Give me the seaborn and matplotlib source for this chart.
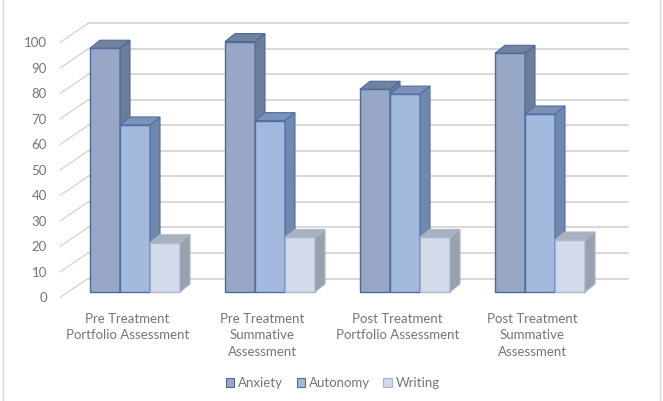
import matplotlib
matplotlib.use("Agg")
import matplotlib.pyplot as plt
import seaborn as sns
import pandas as pd
from matplotlib.patches import Polygon, Patch
from matplotlib.lines import Line2D

# data
categories = ["Pre Treatment\nPortfolio Assessment",
              "Pre Treatment\nSummative\nAssessment",
              "Post Treatment\nPortfolio Assessment",
              "Post Treatment\nSummative\nAssessment"]
series = ["Anxiety", "Autonomy", "Writing"]
anxiety = [95.6, 98.2, 79.5, 93.6]
autonomy = [65.5, 67.2, 77.6, 69.8]
writing = [19.3, 21.4, 21.4, 20.4]
yticks = list(range(0, 101, 10))

front_col = {"Anxiety": "#98A7C5", "Autonomy": "#A3B9DD", "Writing": "#D3DAE9"}
side_col = {"Anxiety": "#6C7C99", "Autonomy": "#7088AE", "Writing": "#9AA1AE"}
top_col = {"Anxiety": "#71819E", "Autonomy": "#7C91B5", "Writing": "#AAB1BE"}
edge_col = {"Anxiety": "#4A6A9C", "Autonomy": "#4C6FA6", "Writing": "#A9B6CE"}
grid_col = "#D6D6D6"
text_col = "#767676"

df = pd.DataFrame({
    "group": categories * 3,
    "series": [s for s in series for _ in categories],
    "value": anxiety + autonomy + writing,
})

sns.set_style("white")
plt.rcParams["font.family"] = ["Lato", "DejaVu Sans"]

W, H = 663, 401
fig = plt.figure(figsize=(W / 100, H / 100), dpi=100)
# axes = front edge of the floor
ax = fig.add_axes([60 / W, (H - 297.5) / H, 540 / W, 255 / H])
sns.barplot(data=df, x="group", y="value", hue="series", palette=front_col,
            width=2 / 3, saturation=1, legend=False, ax=ax)
ax.set_xlim(-0.5, 3.5)
ax.set_ylim(0, 100)

sx = 540 / 4      # px per category
sy = 255 / 100    # px per value unit
wall_dx, wall_dy = 28 / sx, 19 / sy      # back wall depth
bar_dx, bar_dy = 7.5 / sx, 5.5 / sy      # bar front plane
deep_dx, deep_dy = 10 / sx, 8 / sy       # bar depth

# back wall grid and left wall slants
for v in yticks:
    ax.plot([-0.5 + wall_dx, 3.5 + wall_dx], [v + wall_dy, v + wall_dy],
            color=grid_col, lw=1.3, zorder=0.5, clip_on=False)
    ax.plot([-0.5, -0.5 + wall_dx], [v, v + wall_dy],
            color=grid_col, lw=1.0, zorder=0.5, clip_on=False)

for j, (name, cont) in enumerate(zip(series, ax.containers)):
    z = 2 + j
    for p in cont.patches:
        x = p.get_x() + bar_dx
        w = p.get_width()
        h = p.get_height()
        y0 = bar_dy
        p.set_x(x)
        p.set_y(y0)
        p.set_edgecolor(edge_col[name])
        p.set_linewidth(1.0)
        p.set_zorder(z)
        p.set_clip_on(False)
        side = Polygon([(x + w, y0), (x + w + deep_dx, y0 + deep_dy),
                        (x + w + deep_dx, y0 + h + deep_dy), (x + w, y0 + h)],
                       closed=True, facecolor=side_col[name], edgecolor=edge_col[name],
                       lw=0.8, zorder=z, clip_on=False)
        top = Polygon([(x, y0 + h), (x + deep_dx, y0 + h + deep_dy),
                       (x + w + deep_dx, y0 + h + deep_dy), (x + w, y0 + h)],
                      closed=True, facecolor=top_col[name], edgecolor=edge_col[name],
                      lw=0.8, zorder=z, clip_on=False)
        ax.add_patch(side)
        ax.add_patch(top)

for s in ax.spines.values():
    s.set_visible(False)
ax.set_yticks(yticks)
ax.set_xlabel("")
ax.set_ylabel("")
ax.tick_params(axis="y", length=0, pad=9.4, labelsize=9.5, labelcolor=text_col)
ax.tick_params(axis="x", length=0, pad=11, labelsize=9.5, labelcolor=text_col)
for lab in ax.get_xticklabels():
    lab.set_linespacing(1.45)

handles = [Patch(facecolor=front_col[s], edgecolor=edge_col[s], lw=0.8) for s in series]
leg = fig.legend(handles, series, loc="center", bbox_to_anchor=(333 / W, 1 - 383 / H),
                 ncol=3, frameon=False, handlelength=0.65, handleheight=0.65,
                 handletextpad=0.3, columnspacing=1.0, fontsize=9.5)
for t in leg.get_texts():
    t.set_color(text_col)

# chart border
fig.add_artist(Line2D([3 / W, 3 / W], [0, 1], color="#D9D9D9", lw=1))
fig.add_artist(Line2D([660 / W, 660 / W], [0, 1], color="#D9D9D9", lw=1))

fig.savefig("out.png", dpi=100)
